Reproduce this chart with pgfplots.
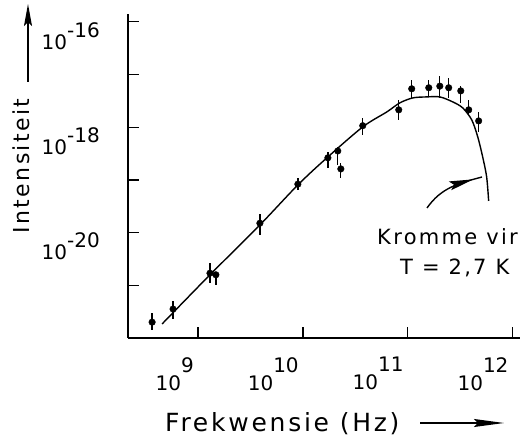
\documentclass[border=0pt]{standalone}
\usepackage{fontspec}
\setmainfont{DejaVu Sans}
\newfontfamily\lettering[LetterSpace=11]{DejaVu Sans}
\usepackage{pgfplots}
\pgfplotsset{compat=1.18}
\usetikzlibrary{arrows.meta,decorations.markings}

% measured intensities, relative error bars (up / down)
\pgfplotstableread{
nu       I         ep    em
3.65e8   2.00e-22  0.48  0.30
5.78e8   3.55e-22  0.42  0.35
1.30e9   1.70e-21  0.55  0.35
1.48e9   1.585e-21 0.14  0.35
3.89e9   1.51e-20  0.48  0.41
8.95e9   8.32e-20  0.30  0.23
1.73e10  2.63e-19  0.30  0.35
2.15e10  3.55e-19  0.19  0.46
2.30e10  1.62e-19  0.30  0.33
3.72e10  1.07e-18  0.42  0.33
8.20e10  2.14e-18  0.55  0.35
1.09e11  5.37e-18  0.48  0.33
1.585e11 5.62e-18  0.42  0.33
2.02e11  6.03e-18  0.55  0.41
2.455e11 5.62e-18  0.55  0.35
3.20e11  4.90e-18  0.24  0.41
3.81e11  2.14e-18  0.55  0.20
4.74e11  1.32e-18  0.48  0.38
}\meas

% the 2.7 K curve
\pgfplotstableread{
nu       I
4.54e8   1.845e-22
1.30e9   1.585e-21
3.89e9   1.40e-20
8.95e9   8.04e-20
1.69e10  2.62e-19
3.72e10  1.014e-18
6.31e10  1.954e-18
8.39e10  2.897e-18
1.117e11 3.606e-18
1.517e11 3.767e-18
2.018e11 3.767e-18
2.685e11 3.027e-18
3.342e11 2.328e-18
4.074e11 1.377e-18
4.645e11 6.56e-19
5.176e11 2.735e-19
5.649e11 1.140e-19
5.902e11 3.99e-20
}\planck

\newcommand\pwx[2]{#1\raisebox{0.9em}{#2}}
\newcommand\pwy[2]{#1\raisebox{0.6em}{#2}}

\begin{document}
\begin{tikzpicture}
\path[use as bounding box] (-128pt,-100pt) rectangle (399pt,338pt);
\begin{axis}[
  scale only axis,
  width=392pt, height=324pt,
  xmode=log, ymode=log,
  xmin=2.15e8, xmax=1.175e12,
  ymin=1e-22, ymax=1.41e-16,
  axis lines*=left,
  axis line style={line width=1.2pt},
  tick style={line width=1.2pt, black},
  major tick length=11pt,
  tick align=inside,
  xminorticks=false, yminorticks=false,
  xtick={1e9,1e10,1e11,1e12},
  xticklabels={\pwx{10}{9},\pwx{10}{10},\pwx{10}{11},\pwx{10}{12}},
  ytick={1e-21,1e-20,1e-19,1e-18,1e-17,1e-16},
  yticklabels={{},\pwy{10}{-20},{},\pwy{10}{-18},{},\pwy{10}{-16}},
  tick label style={font=\fontsize{20}{22}\selectfont},
  xticklabel style={anchor=north east, inner sep=0pt, xshift=-4pt, yshift=-19pt},
  yticklabel style={anchor=east, inner sep=0pt, xshift=-28pt, yshift=-14pt},
]
\addplot[black, line width=1.4pt, smooth, no marks] table[x=nu, y=I] {\planck};
\addplot[black, only marks, mark=*, mark size=3.3pt,
  error bars/.cd, y dir=both, y explicit relative,
  error mark=none, error bar style={line width=1.3pt}]
  table[x=nu, y=I, y error plus=ep, y error minus=em] {\meas};
\end{axis}
% axis titles with arrows
\node[rotate=90, anchor=center, font=\fontsize{22}{24}\selectfont\lettering] at (-107pt,172pt) {Intensiteit};
\draw[line width=1.4pt, -{Stealth[length=22pt,width=8pt,inset=4pt]}] (-100pt,256pt) -- (-100pt,334pt);
\node[anchor=base west, inner sep=0pt, font=\fontsize{25}{27}\selectfont\lettering] at (37pt,-94pt) {Frekwensie (Hz)};
\draw[line width=1.4pt, -{Stealth[length=30pt,width=8pt,inset=4pt]}] (292pt,-85pt) -- (376pt,-85pt);
% annotation of the curve
\node[anchor=base west, inner sep=0pt, font=\fontsize{21}{23}\selectfont\lettering] at (249pt,93pt) {Kromme vir};
\node[anchor=base west, inner sep=0pt, font=\fontsize{21}{23}\selectfont\lettering] at (272pt,63pt) {T = 2,7 K};
\draw[line width=1.4pt, decoration={markings, mark=at position 0.86 with {\arrow{Stealth[length=24pt,width=9pt,inset=4pt]}}}, postaction={decorate}]
  (299pt,130pt) to[out=55, in=195] (354pt,161pt);
\end{tikzpicture}
\end{document}
